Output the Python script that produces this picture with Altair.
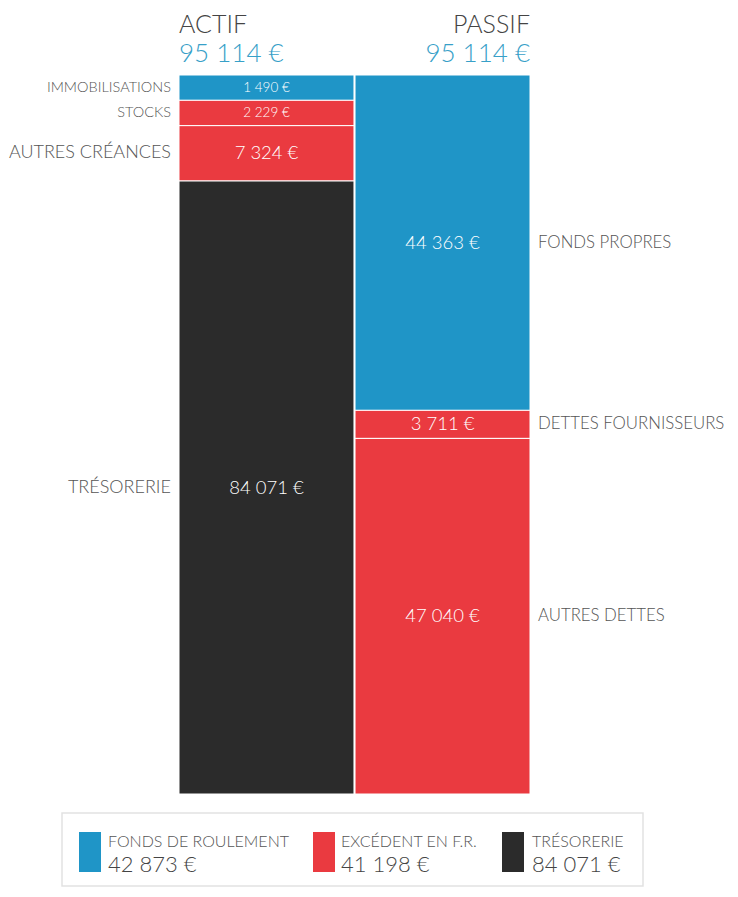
import altair as alt
import pandas as pd

# ---------------- data ----------------
columns = ["ACTIF", "PASSIF"]
column_totals = [95114, 95114]

actif_labels = ["IMMOBILISATIONS", "STOCKS", "AUTRES CRÉANCES", "TRÉSORERIE"]
actif_values = [1490, 2229, 7324, 84071]
actif_kinds = ["fr", "exc", "exc", "tres"]

passif_labels = ["FONDS PROPRES", "DETTES FOURNISSEURS", "AUTRES DETTES"]
passif_values = [44363, 3711, 47040]
passif_kinds = ["fr", "exc", "exc"]

legend_labels = ["FONDS DE ROULEMENT", "EXCÉDENT EN F.R.", "TRÉSORERIE"]
legend_values = [42873, 41198, 84071]
legend_kinds = ["fr", "exc", "tres"]

# ---------------- styling / layout ----------------
kind_domain = ["fr", "exc", "tres"]
kind_range = ["#1f95c7", "#ea3a40", "#2b2b2b"]
FONT = "Lato"
TEXT_GRAY = "#555555"
HEAD_BLUE = "#37a0c8"
MIN_UNITS = 3350  # minimum displayed height of a segment (value units)
W, H = 351, 719


def eur(v):
    return f"{v:,}".replace(",", " ") + " €"


def layout(col, labels, values, kinds):
    disp = [max(v, MIN_UNITS) for v in values]
    excess = sum(disp) - sum(values)
    big = values.index(max(values))
    disp[big] -= excess
    rows, start = [], 0
    for lab, v, k, d in zip(labels, values, kinds, disp):
        rows.append(dict(col=col, label=lab, value=v, kind=k, vlabel=eur(v),
                         y0=start, y1=start + d, mid=start + d / 2,
                         small=v < MIN_UNITS))
        start += d
    return rows


seg = pd.DataFrame(layout("ACTIF", actif_labels, actif_values, actif_kinds)
                   + layout("PASSIF", passif_labels, passif_values, passif_kinds))
heads = pd.DataFrame({"col": columns, "total": [eur(t) for t in column_totals]})
leg = pd.DataFrame({"name": legend_labels, "amount": [eur(v) for v in legend_values],
                    "kind": legend_kinds})

xscale = alt.Scale(domain=columns, paddingInner=0.006, paddingOuter=0)
yscale = alt.Scale(domain=[0, sum(actif_values)], reverse=True, nice=False)
cscale = alt.Scale(domain=kind_domain, range=kind_range)

base = alt.Chart(seg)

bars = base.mark_rect(stroke="white", strokeWidth=1).encode(
    x=alt.X("col:N", scale=xscale, axis=None),
    y=alt.Y("y0:Q", scale=yscale, axis=None),
    y2="y1:Q",
    color=alt.Color("kind:N", scale=cscale, legend=None),
)

values_txt = base.mark_text(color="white", font=FONT, fontWeight=300, baseline="middle").encode(
    x=alt.X("col:N", scale=xscale, axis=None),
    y=alt.Y("mid:Q", scale=yscale, axis=None),
    text="vlabel:N",
    size=alt.condition("datum.small", alt.value(13.5), alt.value(18.5)),
)

left_txt = base.transform_filter(alt.datum.col == "ACTIF").mark_text(
    align="right", baseline="middle", dx=-8, font=FONT, fontWeight=300, color=TEXT_GRAY
).encode(
    x=alt.X("col:N", scale=xscale, axis=None, bandPosition=0),
    y=alt.Y("mid:Q", scale=yscale, axis=None),
    text="label:N",
    size=alt.condition("datum.small", alt.value(14.5), alt.value(18)),
)

right_txt = base.transform_filter(alt.datum.col == "PASSIF").mark_text(
    align="left", baseline="middle", dx=8, font=FONT, fontWeight=300, color=TEXT_GRAY
).encode(
    x=alt.X("col:N", scale=xscale, axis=None, bandPosition=1),
    y=alt.Y("mid:Q", scale=yscale, axis=None),
    text="label:N",
    size=alt.value(16.8),
)

head_layers = []
for colname, align, bp in [("ACTIF", "left", 0), ("PASSIF", "right", 1)]:
    hb = alt.Chart(heads).transform_filter(alt.datum.col == colname)
    head_layers.append(hb.mark_text(align=align, baseline="alphabetic", font=FONT,
                                    fontWeight=300, fontSize=25, color="#444444").encode(
        x=alt.X("col:N", scale=xscale, axis=None, bandPosition=bp),
        y=alt.value(-42), text="col:N"))
    head_layers.append(hb.mark_text(align=align, baseline="alphabetic", font=FONT,
                                    fontWeight=300, fontSize=26, color=HEAD_BLUE).encode(
        x=alt.X("col:N", scale=xscale, axis=None, bandPosition=bp),
        y=alt.value(-13), text="total:N"))

# legend box
box = alt.Chart(leg.head(1)).mark_rect(fill="white", stroke="#e2e2e2", strokeWidth=1.5).encode(
    x=alt.value(-117), x2=alt.value(464), y=alt.value(738), y2=alt.value(811))

legend_layers = [box]
swatch_x = [-100, 134, 323]
text_x = [-71, 162, 353]
for i in range(len(legend_labels)):
    lb = alt.Chart(leg.iloc[[i]])
    legend_layers.append(lb.mark_rect().encode(
        x=alt.value(swatch_x[i]), x2=alt.value(swatch_x[i] + 22),
        y=alt.value(757), y2=alt.value(797),
        color=alt.Color("kind:N", scale=cscale, legend=None)))
    legend_layers.append(lb.mark_text(align="left", baseline="alphabetic", font=FONT,
                                      fontWeight=300, fontSize=16, color=TEXT_GRAY).encode(
        x=alt.value(text_x[i]), y=alt.value(772), text="name:N"))
    legend_layers.append(lb.mark_text(align="left", baseline="alphabetic", font=FONT,
                                      fontWeight=300, fontSize=22, color="#444444").encode(
        x=alt.value(text_x[i]), y=alt.value(797), text="amount:N"))

chart = alt.layer(
    *legend_layers, bars, values_txt, left_txt, right_txt, *head_layers
).properties(
    width=W, height=H,
    padding={"left": 171, "top": 67, "right": 200, "bottom": 94},
    autosize=alt.AutoSizeParams(type="none"),
).configure_view(stroke=None)

chart.save("out.html", embed_options={"renderer": "svg", "actions": False})
